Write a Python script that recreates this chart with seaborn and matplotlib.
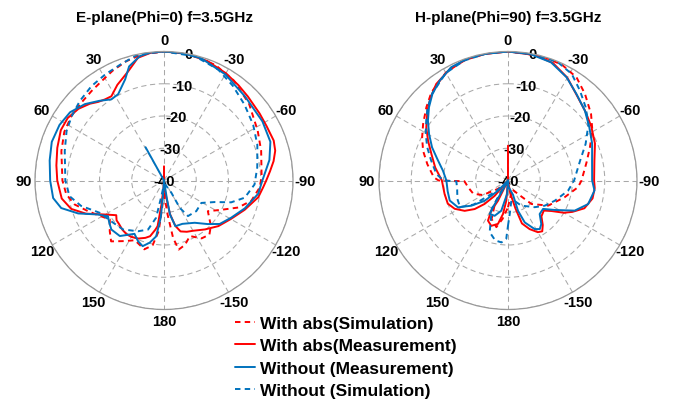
import numpy as np
import pandas as pd
import matplotlib
matplotlib.use("Agg")
import matplotlib.pyplot as plt
from matplotlib.lines import Line2D
import seaborn as sns

# Angles in degrees (0 = boresight, counter-clockwise positive), gain in dB
# E-plane (Phi=0)
e_abs_sim_deg = [-180, -174, -171, -168, -162, -155, -147, -140, -134, -125, -117, -110, -103, -94, -87, -73, -62, -48,
                 -35, -24, -12, 0, 10, 17.5, 25, 32, 39, 47, 55, 64, 74, 90, 98, 105, 112, 118, 125.7, 133, 139, 147,
                 154, 164, 170, 174, 176, 180]
e_abs_sim_db = [-36, -29.4, -22, -18.1, -19, -21, -18.6, -18.1, -19.8, -23.4, -20, -15.5, -12.2, -10.2, -9.7, -8.5, -7.1,
                -4.5, -2.2, -0.8, -0.1, 0, -0.3, -1.2, -2.4, -3.6, -4.3, -4.8, -5.0, -5.6, -6.9, -8.5, -9.4, -11.3, -14.6,
                -17.0, -19.3, -17.0, -15.0, -17.6, -19.4, -17.8, -19.6, -24.2, -31.5, -36]

e_abs_meas_deg = [0, -180, -175, -170, -166, -162, -156, -150, -140, -130, -120, -110, -100, -94, -90, -85, -80, -75,
                  -70, -62, -55, -45, -38, -30, -20, -10, 0, 6, 12, 18, 22, 26, 32, 36, 40, 44, 50, 57, 64, 73, 82, 90,
                  100, 107, 113, 120, 126, 130, 134, 140, 145, 150, 156, 162, 166, 170, 172, 174, 176, 180]
e_abs_meas_db = [-35.6, -40, -36.7, -29.5, -25.5, -23.4, -22.6, -22.0, -20.2, -18.0, -16.1, -13.4, -10.3, -9.2, -8.3,
                 -7.0, -5.5, -4.3, -3.8, -4.0, -3.8, -3.2, -2.5, -1.6, -0.6, -0.1, 0, -0.2, -1.1, -4.3, -5.8, -7.0,
                 -9.2, -8.9, -8.2, -6.9, -5.4, -4.4, -4.4, -5.4, -6.3, -6.9, -7.8, -9.9, -13.7, -18.9, -21.7, -20.8,
                 -20.6, -20.0, -19.7, -19.8, -20.3, -21.3, -22.2, -24.5, -25.7, -32.5, -37.7, -40]

e_wo_meas_deg = [29, -180, -171, -170, -166, -157, -144, -135, -128, -119, -109, -98, -90, -79, -70, -59, -44, -30, -17,
                 -8, 0, 6, 11, 17, 21, 28, 33, 39, 46, 54, 62, 71, 80, 90, 99, 105, 111, 117, 122.5, 128, 133, 141.5,
                 151, 157, 162, 167, 172, 175, 176, 180]
e_wo_meas_db = [-28.2, -40, -34.5, -29.3, -25.4, -25.4, -23.8, -20.9, -18.1, -16.2, -13.5, -10.5, -9.5, -6.7, -4.9,
                -4.4, -3.8, -2.0, -0.4, -0.1, 0, -0.1, -0.7, -3.0, -6.4, -9.7, -10.0, -8.2, -5.9, -4.0, -3.3, -3.2,
                -4.0, -4.7, -5.2, -7.0, -11.5, -16.8, -19.4, -18.5, -17.7, -18.0, -21.1, -19.5, -18.6, -20.2, -22.5,
                -28.4, -34.6, -40]

e_wo_sim_deg = [-180, -160, -149, -150, -146, -133.5, -121, -113, -108, -102, -92.5, -82, -69, -58, -46.7, -36, -26,
                -14, 0, 11.7, 20, 29, 37.6, 46.7, 55, 63, 73.5, 90, 99.4, 107, 116.7, 127.7, 140, 152.8, 162, 168, 170,
                175, 180]
e_wo_sim_db = [-38.5, -38.5, -35.6, -30.2, -26.7, -26.2, -26.5, -22.9, -18.1, -14.4, -11.9, -10.8, -9.0, -7.4, -5.7,
               -3.7, -1.7, -0.3, 0, -0.1, -1.5, -2.4, -3.1, -4.1, -5.1, -6.1, -7.9, -9.4, -10.3, -13.1, -17.7, -19.3,
               -20.2, -22.3, -24.0, -28.2, -34.5, -38, -38.5]

# H-plane (Phi=90)
h_abs_sim_deg = [-180, -165, -155, -143.5, -135, -122, -106.5, -95.5, -90, -77, -68, -59.4, -51.3, -41.7, -33.6, -25,
                 -15, 0, 10, 20, 30, 41, 48.1, 56.4, 63.3, 70.7, 78.6, 87.6, 90, 91, 100, 111, 120, 130, 140, 150, 157,
                 166, 172, 180]
h_abs_sim_db = [-31.7, -36, -37, -34.8, -29.7, -25.3, -21.7, -18.2, -17.2, -15.0, -12.6, -9.6, -7.0, -4.1, -1.6, -0.4,
                0, 0, -0.1, -0.3, -1.4, -3.8, -6.0, -8.4, -10.2, -12.1, -14.5, -17.0, -18.5, -26.5, -27.5, -28.5, -31,
                -36, -39, -32, -27, -25.1, -28, -31.7]

h_abs_meas_deg = [0, -180, -170, -165, -162, -156, -150, -146, -142, -137, -130, -125, -120, -116, -110, -102, -95, -90,
                  -77, -67, -57, -48, -38, -30, -21, -12, 0, 10, 18, 27, 36.6, 43, 49, 57, 63.5, 71, 80, 90, 102, 111,
                  118, 125, 130.6, 135, 139, 142, 153.7, 151, 153.5, 159.7, 167, 171.5, 175.2, 180]
h_abs_meas_db = [-29.2, -40, -36, -31, -26, -23.5, -21.5, -21, -22.5, -24.8, -25.5, -23.5, -20, -17.8, -14.8, -13.2,
                 -13.0, -13.3, -12.5, -10.7, -9.2, -7.8, -5.8, -3.2, -1.0, -0.2, 0, -0.1, -0.2, -0.9, -2.7, -4.8, -6.9,
                 -9.8, -12.3, -14.9, -17.1, -19.5, -19.9, -20.0, -21.3, -23.6, -26.4, -29.7, -33.7, -40, -33, -29.3,
                 -26.1, -25.0, -26.2, -29.5, -33.7, -40]

h_wo_meas_deg = [-180, -175, -160.6, -161.7, -158.2, -151.2, -146.8, -142.6, -136.6, -129, -122.3, -114.3, -106.4,
                 -96.6, -90, -76.6, -66.3, -56.5, -47.8, -38.4, -29.6, -20, -10, 0, 10, 18, 26.6, 34.4, 41.2, 47.2,
                 53.2, 59.5, 66.4, 73.1, 81.4, 90, 100, 109, 118.2, 124.5, 131, 135.6, 140, 150.8, 151.4, 159.3, 167.5,
                 176, 180]
h_wo_meas_db = [-40, -38, -35.3, -30.1, -26, -22.8, -22, -23, -25.7, -26, -22.9, -17.3, -14.1, -13.0, -13.9, -13.2,
                -11.5, -9.8, -7.8, -5.8, -3.2, -1.0, -0.2, 0, -0.1, -0.1, -0.7, -2.5, -4.4, -6.6, -9.0, -11.6, -14.3,
                -17.1, -19.6, -20.9, -21.0, -20.9, -22.4, -26.2, -30.4, -35.6, -40, -30.5, -28.2, -28.3, -30.4, -35.8,
                -40]

h_wo_sim_deg = [-180, -177, -170.7, -160, -152.2, -135, -124.5, -113.4, -99.6, -90, -74.6, -64.8, -54.9, -46.7, -38.7,
                -30.9, -22.8, -12, 0, 10, 20, 30, 41, 48, 53.8, 60.5, 67.6, 75.5, 84.8, 90, 91, 100, 110, 119, 125,
                132, 140, 150, 160.5, 168, 174, 178.3, 180]
h_wo_sim_db = [-26, -29.6, -33.6, -33, -31.2, -28.3, -26.2, -24.2, -21.1, -19.5, -16.8, -13.4, -9.5, -6.9, -4.3, -1.5,
               -0.2, 0, 0, -0.1, -0.4, -1.5, -4.2, -6.4, -8.6, -10.7, -12.9, -15.4, -17.7, -20, -24, -24, -23.3, -23,
               -27, -35, -39, -30, -23, -21, -20.7, -21.9, -26]

series_names = ['With abs(Simulation)', 'With abs(Measurement)', 'Without (Measurement)', 'Without (Simulation)']
plane_titles = ['E-plane(Phi=0) f=3.5GHz', 'H-plane(Phi=90) f=3.5GHz']
theta_ticks = [0, 30, 60, 90, 120, 150, 180, 210, 240, 270, 300, 330]
theta_labels = ['0', '30', '60', '90', '120', '150', '180', '-150', '-120', '-90', '-60', '-30']
r_ticks = [-40, -30, -20, -10, 0]

RED = '#FF0000'
BLUE = '#0072BD'
palette = {series_names[0]: RED, series_names[1]: RED, series_names[2]: BLUE, series_names[3]: BLUE}
dash_map = {series_names[0]: (2.8, 2.2), series_names[1]: '', series_names[2]: '', series_names[3]: (2.8, 2.2)}

sns.set_theme(style="white", rc={'text.color': 'black', 'xtick.color': 'black', 'ytick.color': 'black'})
plt.rcParams['font.family'] = ['Liberation Sans', 'DejaVu Sans']


def make_df(pairs):
    frames = []
    for name, (deg, db) in zip(series_names, pairs):
        frames.append(pd.DataFrame({'theta': np.deg2rad(deg), 'gain': db, 'series': name}))
    return pd.concat(frames, ignore_index=True)


e_df = make_df([(e_abs_sim_deg, e_abs_sim_db), (e_abs_meas_deg, e_abs_meas_db),
                (e_wo_meas_deg, e_wo_meas_db), (e_wo_sim_deg, e_wo_sim_db)])
h_df = make_df([(h_abs_sim_deg, h_abs_sim_db), (h_abs_meas_deg, h_abs_meas_db),
                (h_wo_meas_deg, h_wo_meas_db), (h_wo_sim_deg, h_wo_sim_db)])

fig = plt.figure(figsize=(6.77, 4.02), dpi=100)
ax_e = fig.add_axes([0.0517, 0.2276, 0.3811, 0.6418], projection='polar')
ax_h = fig.add_axes([0.5598, 0.2276, 0.3811, 0.6418], projection='polar')

for ax, df, title in zip([ax_e, ax_h], [e_df, h_df], plane_titles):
    ax.set_theta_zero_location('N')
    ax.set_theta_direction(1)
    sns.lineplot(data=df, x='theta', y='gain', hue='series', style='series',
                 hue_order=series_names, style_order=series_names,
                 palette=palette, dashes=dash_map, sort=False, estimator=None,
                 linewidth=1.4, legend=False, ax=ax)
    ax.set_ylim(-40, 0)
    ax.set_xticks(np.deg2rad(theta_ticks))
    ax.set_xticklabels(theta_labels, fontsize=10.5, fontweight='bold')
    ax.set_yticks(r_ticks)
    ax.set_yticklabels([str(v) for v in r_ticks], fontsize=10.5, fontweight='bold', ha='center', va='center')
    ax.set_rlabel_position(-11)
    ax.tick_params(axis='x', pad=1.5, length=0)
    ax.tick_params(axis='y', length=0)
    ax.grid(True, color='#a8a8a8', linestyle=(0, (5, 3.5)), linewidth=0.75)
    ax.spines['polar'].set_color('#999999')
    ax.spines['polar'].set_linewidth(0.9)
    ax.set_xlabel('')
    ax.set_ylabel('')
    ax.set_title(title, y=1.134, pad=0, va='center', fontsize=11, fontweight='bold')

handles = []
for name in series_names:
    if dash_map[name]:
        handles.append(Line2D([], [], color=palette[name], lw=1.4, dashes=dash_map[name]))
    else:
        handles.append(Line2D([], [], color=palette[name], lw=1.4))
fig.legend(handles, series_names, loc='upper left', bbox_to_anchor=(0.347, 0.212), frameon=False,
           prop={'size': 12.5, 'weight': 'bold'}, handlelength=1.15, handletextpad=0.3,
           labelspacing=0.42, borderpad=0, borderaxespad=0)

fig.savefig('out.png', dpi=100)
